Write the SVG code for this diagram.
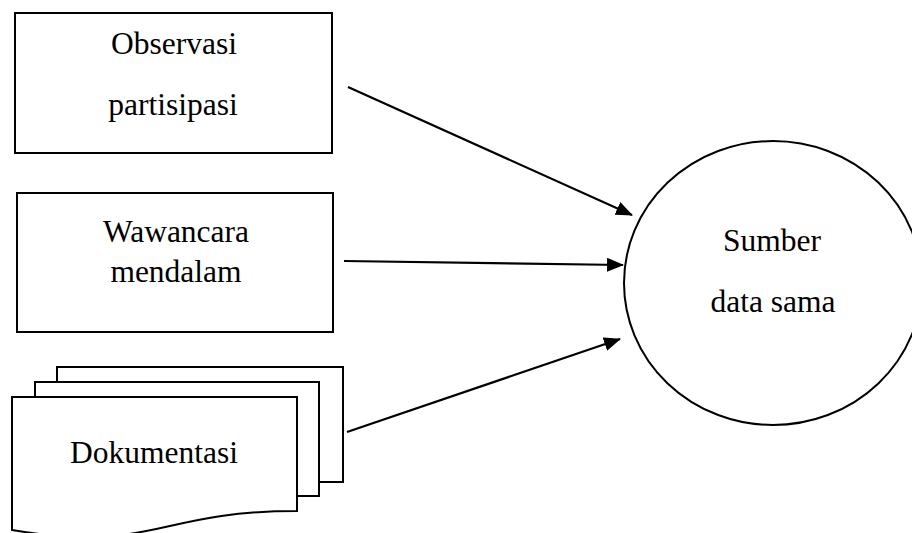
<svg xmlns="http://www.w3.org/2000/svg" width="912" height="533" viewBox="0 0 912 533">
<style>
.s{fill:#fff;stroke:#000;stroke-width:2}
.t{font-family:"Liberation Serif","Times New Roman",serif;font-size:31.5px;fill:#000;text-anchor:middle}
.c{stroke:#000;stroke-width:2.2;fill:none;marker-end:url(#ah)}
</style>
<defs>
<marker id="ah" markerWidth="17" markerHeight="14" refX="16" refY="7" orient="auto" markerUnits="userSpaceOnUse">
<path d="M0,0 L17,7 L0,14 Z" fill="#000"/>
</marker>
</defs>
<rect width="912" height="533" fill="#fff"/>
<g id="observasi">
<rect class="s" x="15" y="13" width="317" height="140"/>
<text class="t" x="174" y="54">Observasi</text>
<text class="t" x="173" y="115">partisipasi</text>
</g>
<g id="wawancara">
<rect class="s" x="17" y="193" width="316" height="139"/>
<text class="t" x="176" y="242">Wawancara</text>
<text class="t" x="176" y="282">mendalam</text>
</g>
<g id="dokumentasi">
<path class="s" d="M57,382 V367 H343 V482 H319"/>
<path class="s" d="M35,397 V382 H319 V496 H297"/>
<path class="s" d="M12,397 H297 V511 C154,511 154,554 12,530 Z"/>
<text class="t" x="154" y="463">Dokumentasi</text>
</g>
<g id="sumber">
<ellipse class="s" cx="773" cy="283" rx="149" ry="142"/>
<text class="t" x="772" y="251">Sumber</text>
<text class="t" x="773" y="312">data sama</text>
</g>
<g id="connectors">
<line class="c" x1="348" y1="87" x2="632" y2="215"/>
<line class="c" x1="344" y1="261" x2="623" y2="265"/>
<line class="c" x1="347" y1="432" x2="620" y2="339"/>
</g>
</svg>
